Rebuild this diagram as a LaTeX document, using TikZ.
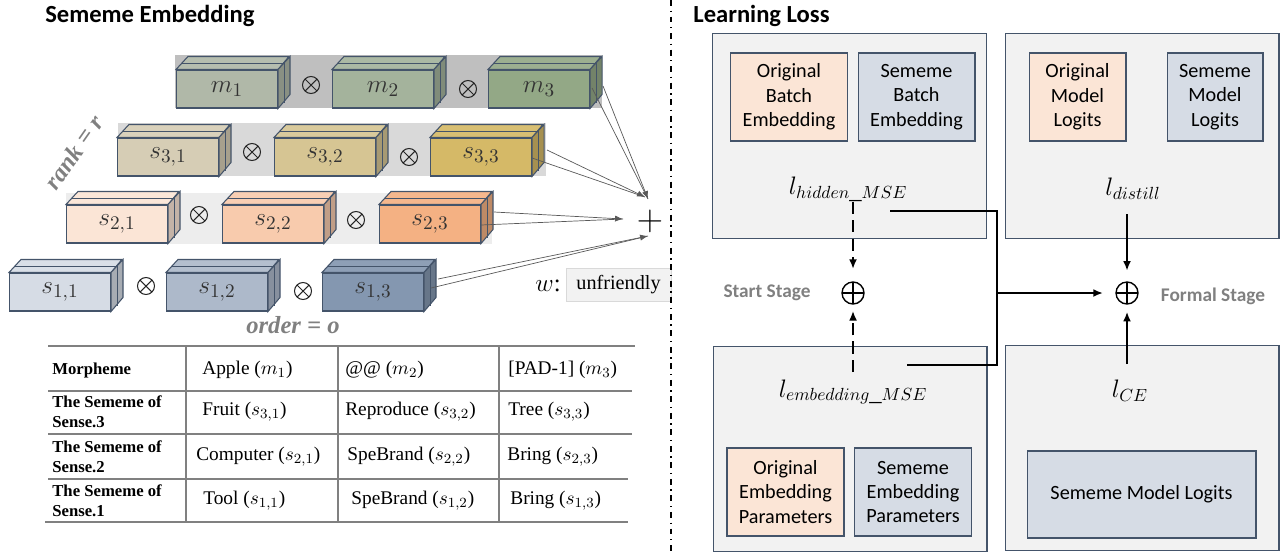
\documentclass[tikz,border=0pt]{standalone}
\usepackage{fontspec}
\setmainfont{Liberation Serif}
\newfontfamily\calibri{Carlito}
\usetikzlibrary{arrows.meta}

\definecolor{edgec}{HTML}{44546A}
\definecolor{boxgray}{HTML}{F2F2F2}
\definecolor{origc}{HTML}{FBE5D6}
\definecolor{semc}{HTML}{D6DCE5}
\definecolor{stagegray}{HTML}{808080}
\definecolor{bgm}{HTML}{BFBFBF}
\definecolor{bgt}{HTML}{D9D9D9}
\definecolor{bgd}{HTML}{EDEDED}
\definecolor{cm1}{HTML}{B0B8A8}
\definecolor{cm2}{HTML}{A4B39C}
\definecolor{cm3}{HTML}{93A886}
\definecolor{ct1}{HTML}{D6CDB5}
\definecolor{ct2}{HTML}{D6C593}
\definecolor{ct3}{HTML}{D5B967}
\definecolor{cd1}{HTML}{FBE5D6}
\definecolor{cd2}{HTML}{F8CBAD}
\definecolor{cd3}{HTML}{F4B183}
\definecolor{cu1}{HTML}{D6DCE5}
\definecolor{cu2}{HTML}{ADB9CA}
\definecolor{cu3}{HTML}{8497B0}

\begin{document}
\begin{tikzpicture}[x=0.02cm, y=-0.02cm]
			\tikzset{cube/.style={draw=edgec, line width=0.6pt, minimum width=2.02cm, minimum height=0.76cm, inner sep=0pt, text=black!80, font=\fontsize{15}{15}\selectfont},
				prod/.style={circle, draw=black!85, line width=0.6pt, minimum size=0.34cm, inner sep=0pt, path picture={\draw[black!85, line width=0.6pt] (path picture bounding box.north west) -- (path picture bounding box.south east) (path picture bounding box.north east) -- (path picture bounding box.south west);}},
				fil/.style={draw=black!65, line width=0.4pt},
				fleche/.style={fil, -{Latex[length=4.5pt, width=3.5pt]}},
				bigbox/.style={draw=edgec, fill=boxgray, line width=0.6pt, minimum width=5.48cm, minimum height=4.1cm},
				innerbox/.style={draw=edgec, line width=0.6pt, minimum width=2.34cm, minimum height=1.76cm, align=center, font=\calibri\fontsize{11.5}{13.9}\selectfont},
				loss/.style={inner sep=2pt, font=\fontsize{14}{14}\selectfont},
				somme/.style={circle, draw, line width=0.8pt, minimum size=0.44cm, inner sep=0pt, path picture={\draw[line width=0.8pt] (path picture bounding box.north) -- (path picture bounding box.south) (path picture bounding box.west) -- (path picture bounding box.east);}},
				stage/.style={text=stagegray, font=\calibri\bfseries\fontsize{11}{11}\selectfont},
				titre/.style={anchor=west, inner sep=0pt, font=\calibri\bfseries\fontsize{14}{14}\selectfont},
				trait/.style={line width=1.1pt},
				tfleche/.style={trait, -{Latex[length=5.5pt, width=4.5pt]}},
				pointille/.style={tfleche, dash pattern=on 7pt off 3.5pt},
				ligne/.style={draw=black!50, line width=0.6pt},
				entete/.style={anchor=west, inner sep=0pt, align=left, font=\bfseries\fontsize{9.5}{11.3}\selectfont},
				cellule/.style={anchor=west, inner sep=0pt, font=\fontsize{11}{11}\selectfont},
				grisgras/.style={text=stagegray, font=\bfseries\itshape\fontsize{14}{14}\selectfont}};

			\useasboundingbox (0,0) rectangle (1283,555);

			\node[titre] (titre1) at (45,16) {Sememe Embedding};
			\node[titre] (titre2) at (693,16) {Learning Loss};

			\fill[bgm] (175,55) rectangle (602,108);
			\fill[bgt] (118,123) rectangle (546,176);
			\fill[bgd] (66,193) rectangle (492,244);

			\node[cube, fill=cm1] (m1) at (227,89) {$m_1$};
			\node[cube, fill=cm2] (m2) at (383,89) {$m_2$};
			\node[cube, fill=cm3] (m3) at (539,89) {$m_3$};
			\node[cube, fill=ct1] (s31) at (168,157) {$s_{3,1}$};
			\node[cube, fill=ct2] (s32) at (325,157) {$s_{3,2}$};
			\node[cube, fill=ct3] (s33) at (481,157) {$s_{3,3}$};
			\node[cube, fill=cd1] (s21) at (117,224) {$s_{2,1}$};
			\node[cube, fill=cd2] (s22) at (273,224) {$s_{2,2}$};
			\node[cube, fill=cd3] (s23) at (430,224) {$s_{2,3}$};
			\node[cube, fill=cu1] (s11) at (60,292) {$s_{1,1}$};
			\node[cube, fill=cu2] (s12) at (217,292) {$s_{1,2}$};
			\node[cube, fill=cu3] (s13) at (373,292) {$s_{1,3}$};

			\foreach \n/\c in {m1/cm1, m2/cm2, m3/cm3, s31/ct1, s32/ct2, s33/ct3, s21/cd1, s22/cd2, s23/cd3, s11/cu1, s12/cu2, s13/cu3} {
				\draw[draw=edgec, line width=0.6pt, fill=\c!92!white] (\n.north west) -- ++(12,-13) -- ++(101,0) -- (\n.north east) -- cycle;
				\draw[draw=edgec, line width=0.6pt, fill=\c!78!black] (\n.north east) -- ++(12,-13) -- ++(0,38) -- (\n.south east) -- cycle;
				\draw[edgec, line width=0.4pt] ([shift={(6,-6)}]\n.north west) -- ([shift={(6,-6)}]\n.north east) -- ([shift={(6,-6)}]\n.south east);
			}

			\node[prod] (om1) at (311,85) {};
			\node[prod] (om2) at (468,89) {};
			\node[prod] (ot1) at (252,152) {};
			\node[prod] (ot2) at (409,157) {};
			\node[prod] (od1) at (199,215) {};
			\node[prod] (od2) at (356,220) {};
			\node[prod] (ou1) at (146,286) {};
			\node[prod] (ou2) at (303,291) {};

			\node[font=\fontsize{20}{20}\selectfont] (plus) at (650,221) {$+$};
			\coordinate (pm) at (648,199);
			\coordinate (pt) at (645,197);
			\coordinate (pd) at (623,219);
			\coordinate (pu) at (648,236);

			\draw[fleche] ([shift={(13,-3)}]m3.east) -- (pm);
			\draw[fil] ([shift={(2,-1)}]m3.east) -- (pm);
			\draw[fleche] ([shift={(15,-7)}]s33.east) -- (pt);
			\draw[fil] ([shift={(0,1)}]s33.east) -- (pt);
			\draw[fleche] ([shift={(13,-12)}]s23.east) -- (pd);
			\draw[fil] ([shift={(0,1)}]s23.east) -- (pd);
			\draw[fleche] ([shift={(14,-13)}]s13.east) -- (pu);
			\draw[fil] ([shift={(7,-4)}]s13.east) -- (pu);

			\node[grisgras, rotate=55] (rang) at (74,152) {rank = r};
			\node[grisgras] (ordre) at (293,325) {order = o};

			\node[font=\fontsize{14}{14}\selectfont] (wlab) at (548,286) {$w$:};
			\node[fill=boxgray, draw=black!15, minimum width=2.1cm, minimum height=0.66cm, font=\fontsize{11.5}{11.5}\selectfont] (mot) at (618.5,284.5) {unfriendly};

			\draw[ligne] (48,346) -- (635,346);
			\draw[ligne] (48,391) -- (632,391);
			\draw[ligne] (48,434) -- (632,434);
			\draw[ligne] (48,479) -- (628,479);
			\draw[ligne, line width=1pt] (45,522) -- (628,522);
			\draw[ligne] (186,346) -- (186,522);
			\draw[ligne] (338,346) -- (338,522);
			\draw[ligne] (499,346) -- (499,522);

			\node[entete] (morph) at (52,370) {Morpheme};
			\node[entete] (sens3) at (52,412) {The Sememe of\\Sense.3};
			\node[entete] (sens2) at (52,457) {The Sememe of\\Sense.2};
			\node[entete] (sens1) at (52,501) {The Sememe of\\Sense.1};

			\node[cellule] (c12) at (202,370) {Apple ($m_1$)};
			\node[cellule] (c22) at (202,412) {Fruit ($s_{3,1}$)};
			\node[cellule] (c32) at (196,457) {Computer ($s_{2,1}$)};
			\node[cellule] (c42) at (203,501) {Tool ($s_{1,1}$)};
			\node[cellule] (c13) at (345,370) {@@ ($m_2$)};
			\node[cellule] (c23) at (345,412) {Reproduce ($s_{3,2}$)};
			\node[cellule] (c33) at (347,457) {SpeBrand ($s_{2,2}$)};
			\node[cellule] (c43) at (351,501) {SpeBrand ($s_{1,2}$)};
			\node[cellule] (c14) at (508,370) {[PAD-1] ($m_3$)};
			\node[cellule] (c24) at (508,412) {Tree ($s_{3,3}$)};
			\node[cellule] (c34) at (507,457) {Bring ($s_{2,3}$)};
			\node[cellule] (c44) at (510,501) {Bring ($s_{1,3}$)};

			\draw[line width=0.9pt, dash pattern=on 3.4pt off 2.6pt on 0.8pt off 2.6pt] (671,0) -- (671,555);

			\node[bigbox] (hid) at (849.5,136) {};
			\node[bigbox] (dis) at (1142,136) {};
			\node[bigbox] (emb) at (850,449) {};
			\node[bigbox] (ce) at (1142,448) {};

			\node[innerbox, fill=origc] (obe) at (789,97) {Original\\Batch\\Embedding};
			\node[innerbox, fill=semc] (sbe) at (916.5,97) {Sememe\\Batch\\Embedding};
			\node[innerbox, fill=origc, minimum width=1.94cm] (oml) at (1077.5,97) {Original\\Model\\Logits};
			\node[innerbox, fill=semc, minimum width=1.92cm] (sml) at (1215,97) {Sememe\\Model\\Logits};
			\node[innerbox, fill=origc] (oep) at (785.5,492) {Original\\Embedding\\Parameters};
			\node[innerbox, fill=semc] (sep) at (913,492) {Sememe\\Embedding\\Parameters};
			\node[innerbox, fill=semc, minimum width=4.58cm, minimum height=1.74cm] (sml2) at (1141.5,494.5) {Sememe Model Logits};

			\node[loss] (lhid) at (848,189) {$l_{hidden\_MSE}$};
			\node[loss] (ldis) at (1133,189) {$l_{distill}$};
			\node[loss] (lemb) at (853,392) {$l_{embedding\_MSE}$};
			\node[loss] (lce) at (1130,391) {$l_{CE}$};

			\node[somme] (sumA) at (853,293) {};
			\node[somme] (sumB) at (1127,293) {};
			\node[stage] (start) at (767,293) {Start Stage};
			\node[stage] (formal) at (1213,296) {Formal Stage};

			\coordinate (hidout) at (890,211);
			\coordinate (embout) at (907,365);
			\coordinate (jn) at (997,293);

			\draw[pointille, shorten >=7pt, shorten <=-2pt] (lhid.south -| sumA) -- (sumA.north);
			\draw[pointille, shorten >=3.5pt, shorten <=2pt] (lemb.north -| sumA) -- (sumA.south);
			\draw[trait] (hidout) -| (jn);
			\draw[trait] (embout) -| (jn);
			\draw[tfleche, shorten >=7pt] (jn) -- (sumB);
			\draw[tfleche, shorten <=6pt, shorten >=6pt] (ldis.south -| sumB) -- (sumB.north);
			\draw[tfleche, shorten <=7pt, shorten >=4pt] (lce.north -| sumB) -- (sumB.south);

		\end{tikzpicture}
\end{document}
